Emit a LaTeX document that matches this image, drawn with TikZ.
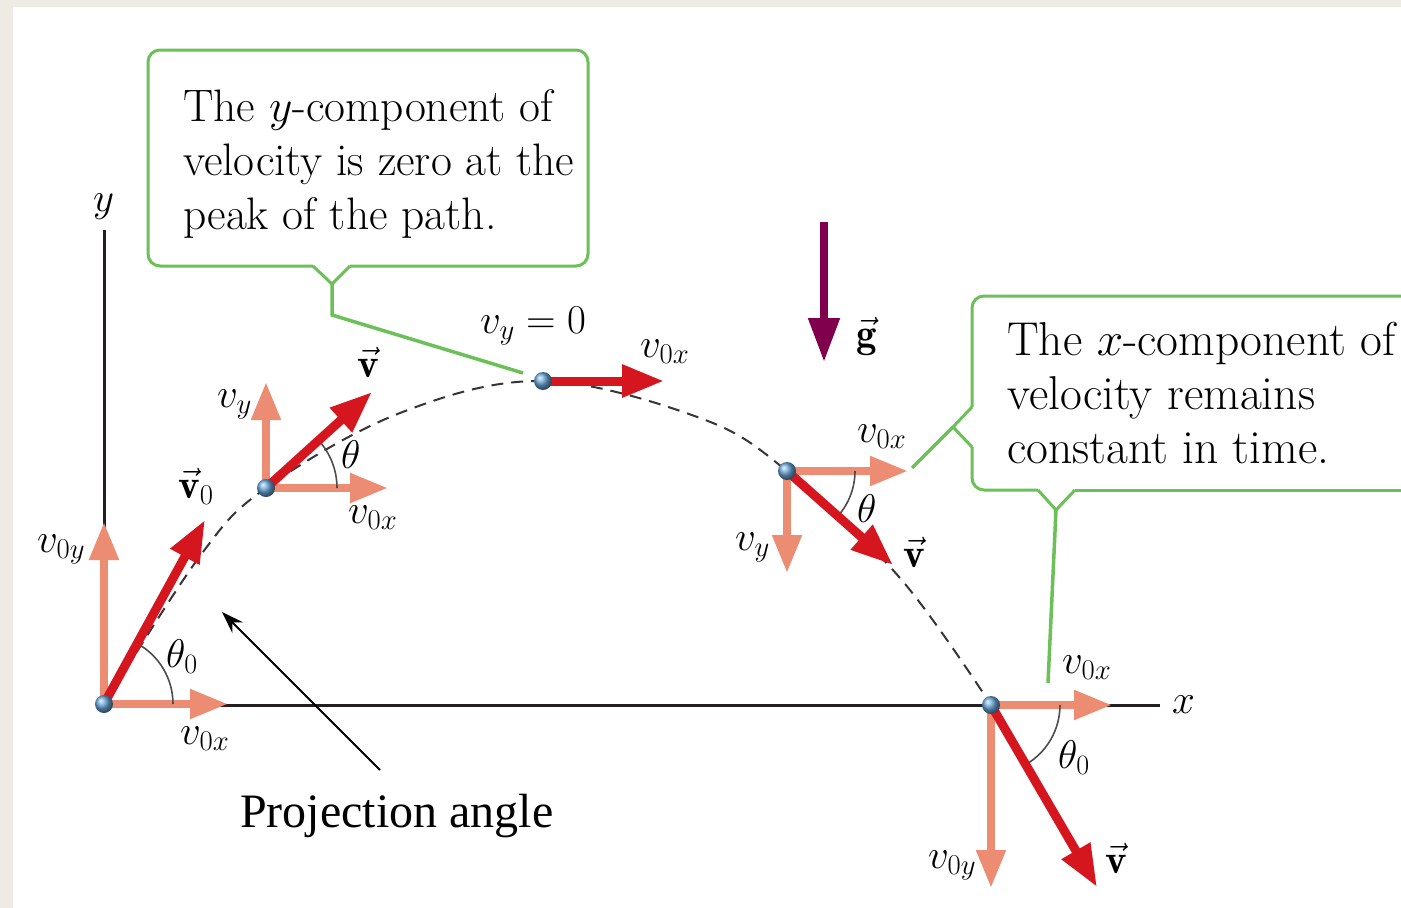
\RequirePackage{fix-cm}
\documentclass[tikz,border=0pt]{standalone}
\usepackage{fontspec}
\newfontfamily\timesfont{Liberation Serif}
\usetikzlibrary{arrows.meta}
\definecolor{beigebg}{RGB}{238,235,228}
\definecolor{salmon}{RGB}{236,140,114}
\definecolor{vred}{RGB}{214,22,30}
\definecolor{maroon}{RGB}{128,0,78}
\definecolor{cgreen}{RGB}{108,192,88}
\definecolor{ballblue}{RGB}{105,165,215}
\definecolor{axisblack}{RGB}{35,31,32}
\begin{document}
\begin{tikzpicture}[x=1pt,y=-1pt,
  axisline/.style={draw=axisblack,line width=3pt},
  pathdash/.style={draw=axisblack!90,line width=2pt,dash pattern=on 12pt off 8pt},
  salmonarrow/.style={draw=salmon,line width=8pt,-{Triangle[length=38pt,width=28pt]}},
  redarrow/.style={draw=vred,line width=9pt,-{Triangle[length=42pt,width=31pt]}},
  gravarrow/.style={draw=maroon,line width=8pt,-{Triangle[length=44pt,width=30pt]}},
  anglearc/.style={draw=axisblack!80,line width=1.6pt},
  ball/.style={circle,inner sep=0pt,minimum size=18pt,shading=ball,ball color=ballblue},
  mlbl/.style={anchor=base west,inner sep=0pt,font=\fontsize{41}{44}\selectfont},
  tlbl/.style={anchor=base west,inner sep=0pt,font=\fontsize{40}{44}\selectfont},
  callout/.style={draw=cgreen,line width=3pt},
  pointer/.style={draw=cgreen,line width=3.5pt},
  ctext/.style={anchor=north west,inner sep=0pt,align=left},
  noteline/.style={draw=black,line width=2pt,-{Stealth[length=22pt,width=15pt]}}
]
\useasboundingbox (0,0) rectangle (1401,908);
\clip (0,0) rectangle (1401,908);
\fill[beigebg] (0,0) rectangle (1401,908);
\fill[white] (13,7) rectangle (1401,908);

% axes
\coordinate (ytop) at (104,230);
\coordinate (xend) at (1160,705);
\draw[axisline] (ytop) -- (104,705) -- (xend);
\node[mlbl] (ylab) at (93,211) {$y$};
\node[mlbl] (xlab) at (1172,713) {$x$};

% trajectory
\draw[pathdash] plot[smooth,tension=0.6] coordinates {(105,703) (200,556) (266,488) (400,413) (543,381) (700,418) (787,471) (900,578) (991,705)};

% ball positions
\coordinate (b1) at (104,704);
\coordinate (b2) at (266,488);
\coordinate (b3) at (543,381);
\coordinate (b4) at (787,471);
\coordinate (b5) at (991,705);

% tips
\coordinate (b1x) at (228,704);
\coordinate (b1y) at (104,522);
\coordinate (b1v) at (205,520);
\coordinate (b2x) at (388,488);
\coordinate (b2y) at (266,382);
\coordinate (b2v) at (372,392);
\coordinate (b3v) at (664,381);
\coordinate (b4x) at (908,471);
\coordinate (b4y) at (787,573);
\coordinate (b4v) at (893,565);
\coordinate (b5x) at (1112,705);
\coordinate (b5y) at (991,888);
\coordinate (b5v) at (1097,887);

% salmon components
\draw[salmonarrow] (b1) -- (b1y);
\draw[salmonarrow] (b1) -- (b1x);
\draw[salmonarrow] (b2) -- (b2y);
\draw[salmonarrow] (b2) -- (b2x);
\draw[salmonarrow] (b4) -- (b4y);
\draw[salmonarrow] (b4) -- (b4x);
\draw[salmonarrow] (b5) -- (b5y);
\draw[salmonarrow] (b5) -- (b5x);

% angle arcs
\draw[anglearc] ([shift={(69,0)}]b1) arc[start angle=0,end angle=-61.3,radius=69];
\draw[anglearc] ([shift={(71,0)}]b2) arc[start angle=0,end angle=-42.2,radius=71];
\draw[anglearc] ([shift={(68,0)}]b4) arc[start angle=0,end angle=41.6,radius=68];
\draw[anglearc] ([shift={(69,0)}]b5) arc[start angle=0,end angle=59.8,radius=69];

% red velocity vectors
\draw[redarrow] (b1) -- (b1v);
\draw[redarrow] (b2) -- (b2v);
\draw[redarrow] (b3) -- (b3v);
\draw[redarrow] (b4) -- (b4v);
\draw[redarrow] (b5) -- (b5v);

% balls
\node[ball] (B1) at (b1) {};
\node[ball] (B2) at (b2) {};
\node[ball] (B3) at (b3) {};
\node[ball] (B4) at (b4) {};
\node[ball] (B5) at (b5) {};

% gravity
\coordinate (gtop) at (824,222);
\coordinate (gtip) at (824,362);
\draw[gravarrow] (gtop) -- (gtip);
\node[mlbl] (glab) at (856,347) {$\vec{\mathbf{g}}$};

% labels
\node[mlbl] (l1y) at (37,552) {$v_{0y}$};
\node[mlbl] (l1v) at (178,498) {$\vec{\mathbf{v}}_0$};
\node[tlbl] (l1t) at (166,667) {$\theta_0$};
\node[mlbl] (l1x) at (180,744) {$v_{0x}$};

\node[mlbl] (l2y) at (217,407) {$v_y$};
\node[mlbl] (l2v) at (357,377) {$\vec{\mathbf{v}}$};
\node[tlbl] (l2t) at (341,468) {$\theta$};
\node[mlbl] (l2x) at (348,523) {$v_{0x}$};

\node[mlbl] (l3y) at (480,333) {$v_y = 0$};
\node[mlbl] (l3x) at (640,357) {$v_{0x}$};

\node[mlbl] (l4x) at (857,442) {$v_{0x}$};
\node[tlbl] (l4t) at (857,522) {$\theta$};
\node[mlbl] (l4y) at (735,550) {$v_y$};
\node[mlbl] (l4v) at (903,567) {$\vec{\mathbf{v}}$};

\node[mlbl] (l5x) at (1062,673) {$v_{0x}$};
\node[tlbl] (l5t) at (1058,768) {$\theta_0$};
\node[mlbl] (l5y) at (928,868) {$v_{0y}$};
\node[mlbl] (l5v) at (1105,873) {$\vec{\mathbf{v}}$};

% callout 1
\coordinate (c1l) at (313,266);
\coordinate (c1n) at (332,284);
\coordinate (c1r) at (350,266);
\coordinate (c1k) at (332,315);
\coordinate (c1e) at (523,373);
\draw[callout,rounded corners=12pt] (c1r) -- (588,266) -- (588,50) -- (148,50) -- (148,266) -- (c1l);
\draw[callout,line join=miter] (c1l) -- (c1n) -- (c1r);
\draw[pointer] (c1n) -- (c1k) -- (c1e);
\node[ctext,font=\fontsize{45.5}{54}\selectfont] (c1text) at (183,89) {The $y$-component of\\velocity is zero at the\\peak of the path.};

% callout 2
\coordinate (c2t) at (972,407);
\coordinate (c2n) at (953,427);
\coordinate (c2u) at (972,447);
\coordinate (c2e) at (912,468);
\coordinate (c2l) at (1038,490);
\coordinate (c2b) at (1056,510);
\coordinate (c2r) at (1075,490);
\coordinate (c2f) at (1048,683);
\draw[callout,rounded corners=12pt] (1420,296) -- (972,296) -- (c2t);
\draw[callout,rounded corners=12pt] (c2u) -- (972,490) -- (c2l);
\draw[callout] (c2r) -- (1420,490);
\draw[callout] (c2t) -- (c2n) -- (c2u);
\draw[callout] (c2l) -- (c2b) -- (c2r);
\draw[pointer] (c2n) -- (c2e);
\draw[pointer] (c2b) -- (c2f);
\node[ctext,font=\fontsize{47.5}{54}\selectfont] (c2text) at (1007,322) {The $x$-component of\\velocity remains\\constant in time.};

% projection angle note
\node[anchor=base west,inner sep=0pt,font=\timesfont\fontsize{48}{54}\selectfont] (pa) at (240,827) {Projection angle};
\coordinate (patail) at (380,770);
\coordinate (patip) at (222,612);
\draw[noteline] (patail) -- (patip);
\end{tikzpicture}
\end{document}
